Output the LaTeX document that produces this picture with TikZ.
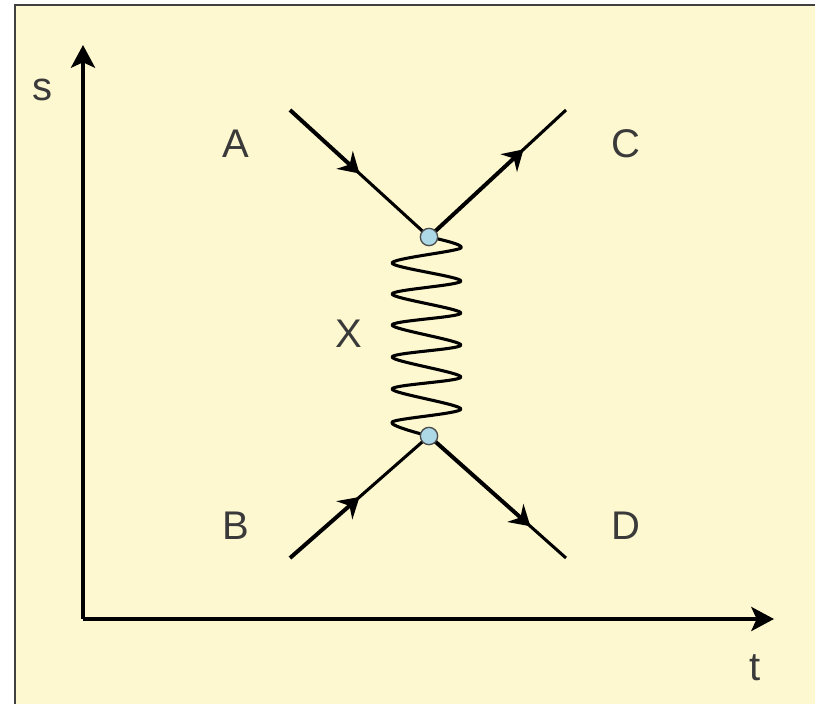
\documentclass[tikz,border=0pt]{standalone}
\usepackage{fontspec}
\setmainfont{Liberation Sans}
\usepackage{xcolor}
\usetikzlibrary{calc, arrows.meta, positioning}
\definecolor{paper}{HTML}{FDF8CF}
\definecolor{vertexblue}{HTML}{ADD8E6}
\definecolor{labelgray}{HTML}{3A3A3A}

\begin{document}
\begin{tikzpicture}[
      x=0.75pt, y=-0.75pt,
      lbl/.style={font=\fontsize{30}{32}\selectfont, text=labelgray, inner sep=0pt},
      axis/.style={-{Stealth[length=17pt,width=18pt,inset=4pt]}, line width=3pt},
      leg/.style={line width=2.3pt},
      arr/.style={-{Stealth[length=15pt,width=18pt,inset=5pt]}, line width=3pt},
      vertexpt/.style={circle, draw=black!70, fill=vertexblue, line width=1pt,
                       minimum size=13pt, inner sep=0pt},
      wave/.style={line width=2.3pt, line join=round}
    ]
    \useasboundingbox (0,0) rectangle (815,704);
    \fill[paper] (15,5) rectangle (815,704);
    \draw[line width=1.5pt, black!75] (15,704) -- (15,5) -- (815,5);

    % axes
    \coordinate (orig) at (83,619);
    \coordinate (send) at (83,45);
    \coordinate (tend) at (774,619);
    \draw[axis] (orig) -- (send);
    \draw[axis] (orig) -- (tend);
    \node[lbl] (s) at (42,90) {s};
    \node[lbl] (t) at (755,668) {t};

    % vertices and outer ends
    \coordinate (vtop) at (429,237);
    \coordinate (vbot) at (429,436);
    \coordinate (a) at (290,110);
    \coordinate (c) at (566,110);
    \coordinate (b) at (290,558);
    \coordinate (d) at (566,558);

    \draw[wave] plot[smooth, tension=0.5] coordinates {
      (vtop) (461,248) (392,263) (461,281) (392,294) (461,313) (392,325)
      (461,345) (392,357) (461,377) (392,389) (461,409) (392,422) (vbot)};

    \draw[arr] (a) -- ($(a)!0.5!(vtop)$);
    \draw[leg] ($(a)!0.45!(vtop)$) -- (vtop);
    \draw[arr] (vtop) -- ($(vtop)!0.69!(c)$);
    \draw[leg] ($(vtop)!0.65!(c)$) -- (c);
    \draw[arr] (b) -- ($(b)!0.5!(vbot)$);
    \draw[leg] ($(b)!0.45!(vbot)$) -- (vbot);
    \draw[arr] (vbot) -- ($(vbot)!0.74!(d)$);
    \draw[leg] ($(vbot)!0.70!(d)$) -- (d);

    \node[vertexpt] (top) at (vtop) {};
    \node[vertexpt] (bot) at (vbot) {};

    \node[lbl] (la) at (236,144) {A};
    \node[lbl] (lc) at (626,144) {C};
    \node[lbl] (lb) at (236,526) {B};
    \node[lbl] (ld) at (626,526) {D};
    \node[lbl] (lx) at (349,334) {X};
  \end{tikzpicture}
\end{document}
